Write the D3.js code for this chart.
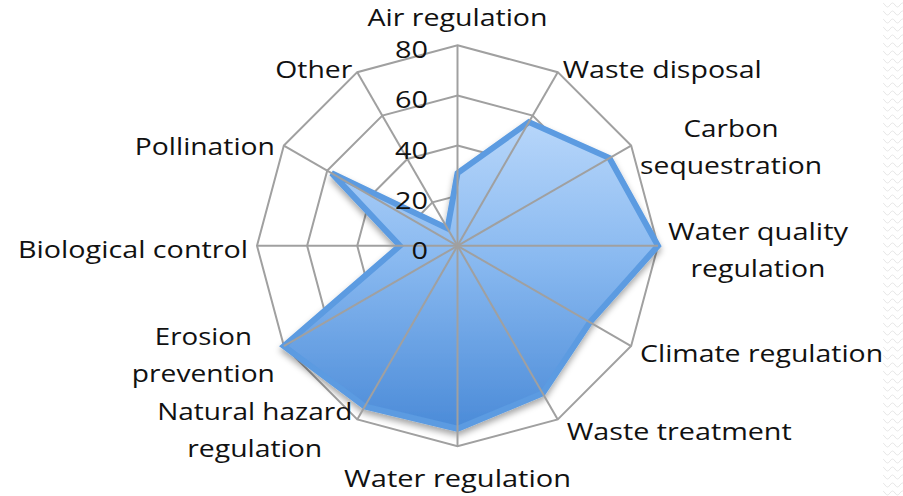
<!DOCTYPE html>
<html>
<head>
<meta charset="utf-8">
<script src="https://cdn.jsdelivr.net/npm/d3@7"></script>
<style>
  html, body { margin: 0; padding: 0; background: #ffffff; }
  svg { display: block; }
  text { font-family: "Open Sans", Lato, sans-serif; fill: #111; }
</style>
</head>
<body>
<svg id="chart" width="903" height="496"></svg>
<script>
// ---- data ----
const categories = [
  ["Air regulation"],
  ["Waste disposal"],
  ["Carbon", "sequestration"],
  ["Water quality", "regulation"],
  ["Climate regulation"],
  ["Waste treatment"],
  ["Water regulation"],
  ["Natural hazard", "regulation"],
  ["Erosion", "prevention"],
  ["Biological control"],
  ["Pollination"],
  ["Other"]
];
const values = [29, 57, 70, 80, 61, 68, 73, 74, 80, 23, 58, 8];
const tickValues = [0, 20, 40, 60, 80];

// ---- layout (not data) ----
const W = 903, H = 496;
const cx = 457.5, cy = 245.8, R = 200.5;
const fontSize = 24, tickFontSize = 23, lineGap = 37;
// per-label anchor / offsets from the outer vertex, and target line widths
const labelLayout = [
  {a: "middle", dx: 0,  dy: -19, w: [180]},
  {a: "start",  dx: 5,  dy: 6,   w: [199]},
  {a: "start",  dx: 9,  dy: -8.5, w: [95, 182]},
  {a: "start",  dx: 10, dy: -6,  w: [180, 135]},
  {a: "start",  dx: 9,  dy: 16,  w: [243]},
  {a: "start",  dx: 9,  dy: 21,  w: [225]},
  {a: "middle", dx: 0,  dy: 41,  w: [227]},
  {a: "end",    dx: -5, dy: 0.6, w: [195, 135]},
  {a: "end",    dx: -9, dy: -1,  w: [97, 143]},
  {a: "end",    dx: -9, dy: 12,  w: [230]},
  {a: "end",    dx: -9, dy: 9.5, w: [140]},
  {a: "end",    dx: -5, dy: 6,   w: [77]}
];
const tickWidthPerChar = 16.5;

const svg = d3.select("#chart");
const defs = svg.append("defs");

const grad = defs.append("linearGradient")
  .attr("id", "fillGrad").attr("x1", 0).attr("y1", 0).attr("x2", 0).attr("y2", 1);
grad.append("stop").attr("offset", "0%").attr("stop-color", "#b7d6fa");
grad.append("stop").attr("offset", "45%").attr("stop-color", "#89b9f0");
grad.append("stop").attr("offset", "100%").attr("stop-color", "#4b8bd8");

const shadow = defs.append("filter").attr("id", "shadow")
  .attr("x", "-10%").attr("y", "-10%").attr("width", "120%").attr("height", "125%");
shadow.append("feDropShadow").attr("dx", 0).attr("dy", 4)
  .attr("stdDeviation", 3).attr("flood-color", "#000").attr("flood-opacity", 0.35);

// right-edge faint wave texture
const pat = defs.append("pattern").attr("id", "wave")
  .attr("patternUnits", "userSpaceOnUse").attr("width", 10).attr("height", 8);
pat.append("path").attr("d", "M0,5 Q2.5,1 5,5 T10,5")
  .attr("fill", "none").attr("stroke", "#e6e6e6").attr("stroke-width", 1);
svg.append("rect").attr("x", 883).attr("y", 0).attr("width", 20).attr("height", H)
  .attr("fill", "url(#wave)");

const n = categories.length;
const r = d3.scaleLinear().domain([0, 80]).range([0, R]);
const angle = d3.scaleLinear().domain([0, n]).range([0, 2 * Math.PI]);
const pt = (i, v) => [cx + r(v) * Math.sin(angle(i)), cy - r(v) * Math.cos(angle(i))];

const gridColor = "#a0a0a0";

// rings
const ringLine = d3.line().curve(d3.curveLinearClosed);
svg.append("g").selectAll("path")
  .data(tickValues.filter(t => t > 0))
  .join("path")
  .attr("d", t => ringLine(d3.range(n).map(i => pt(i, t))))
  .attr("fill", "none").attr("stroke", gridColor).attr("stroke-width", 2);

// series area
const area = d3.line().curve(d3.curveLinearClosed);
svg.append("path")
  .attr("d", area(values.map((v, i) => pt(i, v))))
  .attr("fill", "url(#fillGrad)")
  .attr("stroke", "#5b9be1").attr("stroke-width", 6).attr("stroke-linejoin", "miter")
  .attr("filter", "url(#shadow)");

// spokes
svg.append("g").selectAll("line")
  .data(d3.range(n))
  .join("line")
  .attr("x1", cx).attr("y1", cy)
  .attr("x2", i => pt(i, 80)[0]).attr("y2", i => pt(i, 80)[1])
  .attr("stroke", gridColor).attr("stroke-width", 2);

// tick labels
svg.append("g").selectAll("text")
  .data(tickValues)
  .join("text")
  .attr("x", cx - 29.5)
  .attr("y", t => cy - r(t) + 13)
  .attr("text-anchor", "end")
  .attr("font-size", tickFontSize)
  .attr("textLength", t => String(t).length * tickWidthPerChar)
  .attr("lengthAdjust", "spacingAndGlyphs")
  .text(t => t);

// category labels
const lg = svg.append("g");
categories.forEach((lines, i) => {
  const [vx, vy] = pt(i, 80);
  const L = labelLayout[i];
  const maxW = d3.max(L.w);
  let x;
  if (L.a === "middle") x = vx + L.dx;
  else if (L.a === "start") x = vx + L.dx + maxW / 2;
  else x = vx + L.dx - maxW / 2;
  lines.forEach((s, k) => {
    lg.append("text")
      .attr("font-size", fontSize)
      .attr("text-anchor", "middle")
      .attr("x", x)
      .attr("y", vy + L.dy + k * lineGap)
      .attr("textLength", L.w[k])
      .attr("lengthAdjust", "spacingAndGlyphs")
      .text(s);
  });
});
</script>
</body>
</html>
